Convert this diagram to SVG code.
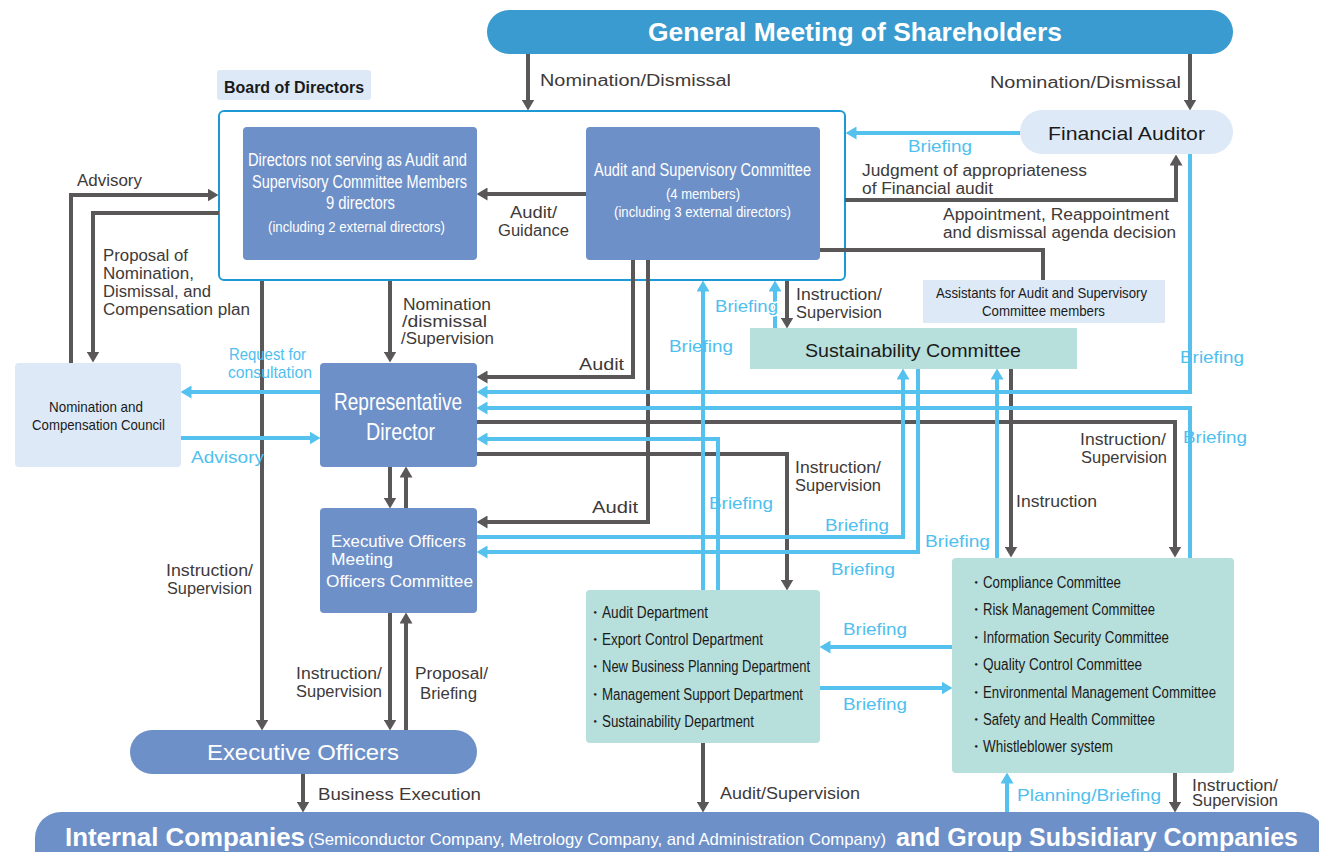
<svg xmlns="http://www.w3.org/2000/svg" width="1319" height="852" viewBox="0 0 1319 852">
<style>
text{font-family:"Liberation Sans",Arial,sans-serif;}
.lb{fill:#3e3a39;font-size:16px}
.bl{fill:#4fbfef;font-size:17px}
.wt{fill:#ffffff}
.dk{fill:#1a1a1a}
.dl{fill:none;stroke:#595757;stroke-width:4}
.bll{fill:none;stroke:#55c1ee;stroke-width:4}
.blue{fill:#6e90c8}
.pale{fill:#dde9f6}
.teal{fill:#b7dfdc}
</style>
<defs>
<marker id="ad" viewBox="0 0 11 13" refX="0.5" refY="6.5" markerWidth="11" markerHeight="13" markerUnits="userSpaceOnUse" orient="auto"><path d="M0,0L11,6.5L0,13z" fill="#595757"/></marker>
<marker id="ab" viewBox="0 0 11 13" refX="0.5" refY="6.5" markerWidth="11" markerHeight="13" markerUnits="userSpaceOnUse" orient="auto"><path d="M0,0L11,6.5L0,13z" fill="#55c1ee"/></marker>
</defs>
<rect width="1319" height="852" fill="#ffffff"/>

<g id="board">
<rect x="219" y="111" width="626" height="169" rx="5" fill="#ffffff" stroke="#1d9ad6" stroke-width="2"/>
</g>

<g id="connectors">
<path class="dl" d="M528,54V100" marker-end="url(#ad)"/>
<path class="dl" d="M1190,54V100" marker-end="url(#ad)"/>
<path class="dl" d="M586,194H487" marker-end="url(#ad)"/>
<path class="dl" d="M845,200H1176V165" marker-end="url(#ad)"/>
<path class="dl" d="M820,250H1043V280"/>
<path class="dl" d="M71,363V195H208" marker-end="url(#ad)"/>
<path class="dl" d="M219,213H93V352" marker-end="url(#ad)"/>
<path class="dl" d="M262,281V720" marker-end="url(#ad)"/>
<path class="dl" d="M390,281V352" marker-end="url(#ad)"/>
<path class="dl" d="M633,260V377H487" marker-end="url(#ad)"/>
<path class="dl" d="M648,260V522H487" marker-end="url(#ad)"/>
<path class="dl" d="M787,281V318" marker-end="url(#ad)"/>
<path class="dl" d="M477,422H1175V547" marker-end="url(#ad)"/>
<path class="dl" d="M477,454H787V580" marker-end="url(#ad)"/>
<path class="dl" d="M1011,369V547" marker-end="url(#ad)"/>
<path class="dl" d="M390,467V498" marker-end="url(#ad)"/>
<path class="dl" d="M406,508V477" marker-end="url(#ad)"/>
<path class="dl" d="M390,613V720" marker-end="url(#ad)"/>
<path class="dl" d="M406,730V623" marker-end="url(#ad)"/>
<path class="dl" d="M303,774V802" marker-end="url(#ad)"/>
<path class="dl" d="M703,743V802" marker-end="url(#ad)"/>
<path class="dl" d="M1175,773V802" marker-end="url(#ad)"/>

<path class="bll" d="M1020,133H856" marker-end="url(#ab)"/>
<path class="bll" d="M1190,154V392H487" marker-end="url(#ab)"/>
<path class="bll" d="M320,392H191" marker-end="url(#ab)"/>
<path class="bll" d="M181,438H310" marker-end="url(#ab)"/>
<path class="bll" d="M1190,558V408H487" marker-end="url(#ab)"/>
<path class="bll" d="M718,590V439H487" marker-end="url(#ab)"/>
<path class="bll" d="M703,590V291" marker-end="url(#ab)"/>
<path class="bll" d="M775,328V291" marker-end="url(#ab)"/>
<path class="bll" d="M477,537H903V379" marker-end="url(#ab)"/>
<path class="bll" d="M918,369V552H487" marker-end="url(#ab)"/>
<path class="bll" d="M997,558V379" marker-end="url(#ab)"/>
<path class="bll" d="M952,647H830" marker-end="url(#ab)"/>
<path class="bll" d="M820,688H942" marker-end="url(#ab)"/>
<path class="bll" d="M1007,812V783" marker-end="url(#ab)"/>
</g>

<g id="gms">
<rect x="487" y="10" width="746" height="44" rx="22" fill="#3a9bd0"/>
<text x="648" y="41" class="wt" font-size="26" font-weight="bold" textLength="414" lengthAdjust="spacingAndGlyphs">General Meeting of Shareholders</text>
</g>
<g id="board-label">
<rect x="217" y="70" width="154" height="30" rx="3" class="pale"/>
<text x="224" y="93" class="dk" font-size="16" font-weight="bold" textLength="140" lengthAdjust="spacingAndGlyphs">Board of Directors</text>
</g>
<g id="directors">
<rect x="243" y="127" width="234" height="133" rx="4" class="blue"/>
<text x="248" y="166" class="wt" font-size="18" textLength="219" lengthAdjust="spacingAndGlyphs">Directors not serving as Audit and</text>
<text x="252" y="188" class="wt" font-size="18" textLength="215" lengthAdjust="spacingAndGlyphs">Supervisory Committee Members</text>
<text x="326" y="209" class="wt" font-size="18" textLength="69" lengthAdjust="spacingAndGlyphs">9 directors</text>
<text x="268" y="232" class="wt" font-size="14" textLength="177" lengthAdjust="spacingAndGlyphs">(including 2 external directors)</text>
</g>
<g id="audit-committee">
<rect x="586" y="127" width="234" height="133" rx="4" class="blue"/>
<text x="594" y="176" class="wt" font-size="18" textLength="217" lengthAdjust="spacingAndGlyphs">Audit and Supervisory Committee</text>
<text x="666" y="199" class="wt" font-size="14" textLength="74" lengthAdjust="spacingAndGlyphs">(4 members)</text>
<text x="614" y="217" class="wt" font-size="14" textLength="177" lengthAdjust="spacingAndGlyphs">(including 3 external directors)</text>
</g>
<g id="financial-auditor">
<rect x="1020" y="110" width="213" height="44" rx="22" class="pale"/>
<text x="1048" y="140" class="dk" font-size="18" textLength="157" lengthAdjust="spacingAndGlyphs">Financial Auditor</text>
</g>
<g id="assistants">
<rect x="923" y="280" width="242" height="43" class="pale"/>
<text x="936" y="298" class="dk" font-size="15" textLength="211" lengthAdjust="spacingAndGlyphs">Assistants for Audit and Supervisory</text>
<text x="982" y="316" class="dk" font-size="15" textLength="123" lengthAdjust="spacingAndGlyphs">Committee members</text>
</g>
<g id="council">
<rect x="15" y="363" width="166" height="104" rx="4" class="pale"/>
<text x="49" y="412" class="dk" font-size="15" textLength="94" lengthAdjust="spacingAndGlyphs">Nomination and</text>
<text x="32" y="430" class="dk" font-size="15" textLength="133" lengthAdjust="spacingAndGlyphs">Compensation Council</text>
</g>
<g id="rep-director">
<rect x="320" y="363" width="157" height="104" rx="4" class="blue"/>
<text x="334" y="410" class="wt" font-size="24" textLength="128" lengthAdjust="spacingAndGlyphs">Representative</text>
<text x="366" y="440" class="wt" font-size="24" textLength="69" lengthAdjust="spacingAndGlyphs">Director</text>
</g>
<g id="sustainability">
<rect x="750" y="328" width="327" height="41" class="teal"/>
<text x="805" y="357" class="dk" font-size="18" textLength="216" lengthAdjust="spacingAndGlyphs">Sustainability Committee</text>
</g>
<g id="exec-meeting">
<rect x="320" y="508" width="157" height="105" rx="4" class="blue"/>
<text x="331" y="547" class="wt" font-size="16" textLength="135" lengthAdjust="spacingAndGlyphs">Executive Officers</text>
<text x="331" y="565" class="wt" font-size="16" textLength="62" lengthAdjust="spacingAndGlyphs">Meeting</text>
<text x="326" y="587" class="wt" font-size="16" textLength="147" lengthAdjust="spacingAndGlyphs">Officers Committee</text>
</g>
<g id="exec-officers">
<rect x="130" y="730" width="347" height="44" rx="22" class="blue"/>
<text x="207" y="760" class="wt" font-size="22" textLength="192" lengthAdjust="spacingAndGlyphs">Executive Officers</text>
</g>
<g id="departments">
<rect x="586" y="590" width="234" height="153" rx="4" class="teal"/>
<g class="dk" font-size="16">
<text x="587" y="618">・<tspan x="602" textLength="106" lengthAdjust="spacingAndGlyphs">Audit Department</tspan></text>
<text x="587" y="645">・<tspan x="602" textLength="161" lengthAdjust="spacingAndGlyphs">Export Control Department</tspan></text>
<text x="587" y="672">・<tspan x="602" textLength="208" lengthAdjust="spacingAndGlyphs">New Business Planning Department</tspan></text>
<text x="587" y="700">・<tspan x="602" textLength="201" lengthAdjust="spacingAndGlyphs">Management Support Department</tspan></text>
<text x="587" y="727">・<tspan x="602" textLength="152" lengthAdjust="spacingAndGlyphs">Sustainability Department</tspan></text>
</g>
</g>
<g id="committees">
<rect x="952" y="558" width="282" height="215" rx="4" class="teal"/>
<g class="dk" font-size="16">
<text x="968" y="588">・<tspan x="983" textLength="138" lengthAdjust="spacingAndGlyphs">Compliance Committee</tspan></text>
<text x="968" y="615">・<tspan x="983" textLength="172" lengthAdjust="spacingAndGlyphs">Risk Management Committee</tspan></text>
<text x="968" y="643">・<tspan x="983" textLength="186" lengthAdjust="spacingAndGlyphs">Information Security Committee</tspan></text>
<text x="968" y="670">・<tspan x="983" textLength="159" lengthAdjust="spacingAndGlyphs">Quality Control Committee</tspan></text>
<text x="968" y="698">・<tspan x="983" textLength="233" lengthAdjust="spacingAndGlyphs">Environmental Management Committee</tspan></text>
<text x="968" y="725">・<tspan x="983" textLength="172" lengthAdjust="spacingAndGlyphs">Safety and Health Committee</tspan></text>
<text x="968" y="752">・<tspan x="983" textLength="130" lengthAdjust="spacingAndGlyphs">Whistleblower system</tspan></text>
</g>
</g>
<g id="companies">
<rect x="35" y="812" width="1290" height="80" rx="26" class="blue"/>
<text x="65" y="846" class="wt" font-size="25" font-weight="bold" textLength="240" lengthAdjust="spacingAndGlyphs">Internal Companies</text>
<text x="308" y="845" class="wt" font-size="17" textLength="578" lengthAdjust="spacingAndGlyphs">(Semiconductor Company, Metrology Company, and Administration Company)</text>
<text x="896" y="846" class="wt" font-size="25" font-weight="bold" textLength="402" lengthAdjust="spacingAndGlyphs">and Group Subsidiary Companies</text>
</g>

<g id="labels">
<text x="540" y="86" class="lb" font-size="17" textLength="191" lengthAdjust="spacingAndGlyphs">Nomination/Dismissal</text>
<text x="990" y="88" class="lb" font-size="17" textLength="191" lengthAdjust="spacingAndGlyphs">Nomination/Dismissal</text>
<text x="908" y="152" class="bl" textLength="64" lengthAdjust="spacingAndGlyphs">Briefing</text>
<text x="862" y="176" class="lb" textLength="225" lengthAdjust="spacingAndGlyphs">Judgment of appropriateness</text>
<text x="862" y="194" class="lb" textLength="131" lengthAdjust="spacingAndGlyphs">of Financial audit</text>
<text x="943" y="220" class="lb" textLength="226" lengthAdjust="spacingAndGlyphs">Appointment, Reappointment</text>
<text x="943" y="238" class="lb" textLength="233" lengthAdjust="spacingAndGlyphs">and dismissal agenda decision</text>
<text x="510" y="218" class="lb" textLength="47" lengthAdjust="spacingAndGlyphs">Audit/</text>
<text x="498" y="236" class="lb" textLength="71" lengthAdjust="spacingAndGlyphs">Guidance</text>
<text x="77" y="186" class="lb" textLength="65" lengthAdjust="spacingAndGlyphs">Advisory</text>
<text x="103" y="261" class="lb" textLength="85" lengthAdjust="spacingAndGlyphs">Proposal of</text>
<text x="103" y="279" class="lb" textLength="91" lengthAdjust="spacingAndGlyphs">Nomination,</text>
<text x="103" y="297" class="lb" textLength="108" lengthAdjust="spacingAndGlyphs">Dismissal, and</text>
<text x="103" y="315" class="lb" textLength="147" lengthAdjust="spacingAndGlyphs">Compensation plan</text>
<text x="403" y="310" class="lb" font-size="15" textLength="88" lengthAdjust="spacingAndGlyphs">Nomination</text>
<text x="402" y="327" class="lb" font-size="15" textLength="85" lengthAdjust="spacingAndGlyphs">/dismissal</text>
<text x="401" y="344" class="lb" font-size="15" textLength="93" lengthAdjust="spacingAndGlyphs">/Supervision</text>
<text x="229" y="360" class="bl" font-size="14" textLength="77" lengthAdjust="spacingAndGlyphs">Request for</text>
<text x="228" y="378" class="bl" font-size="14" textLength="84" lengthAdjust="spacingAndGlyphs">consultation</text>
<text x="191" y="463" class="bl" font-size="18" textLength="73" lengthAdjust="spacingAndGlyphs">Advisory</text>
<text x="579" y="370" class="lb" font-size="18" textLength="45" lengthAdjust="spacingAndGlyphs">Audit</text>
<text x="592" y="513" class="lb" font-size="18" textLength="46" lengthAdjust="spacingAndGlyphs">Audit</text>
<text x="669" y="352" class="bl" font-size="18" textLength="64" lengthAdjust="spacingAndGlyphs">Briefing</text>
<text x="715" y="312" class="bl" font-size="18" textLength="63" lengthAdjust="spacingAndGlyphs" stroke="#ffffff" stroke-width="3" paint-order="stroke">Briefing</text>
<text x="796" y="300" class="lb" font-size="15" textLength="86" lengthAdjust="spacingAndGlyphs">Instruction/</text>
<text x="796" y="318" class="lb" font-size="15" textLength="86" lengthAdjust="spacingAndGlyphs">Supervision</text>
<text x="795" y="473" class="lb" font-size="15" textLength="86" lengthAdjust="spacingAndGlyphs">Instruction/</text>
<text x="795" y="491" class="lb" font-size="15" textLength="86" lengthAdjust="spacingAndGlyphs">Supervision</text>
<text x="709" y="509" class="bl" font-size="18" textLength="64" lengthAdjust="spacingAndGlyphs">Briefing</text>
<text x="825" y="531" class="bl" font-size="18" textLength="64" lengthAdjust="spacingAndGlyphs">Briefing</text>
<text x="831" y="575" class="bl" font-size="18" textLength="64" lengthAdjust="spacingAndGlyphs">Briefing</text>
<text x="925" y="547" class="bl" font-size="18" textLength="65" lengthAdjust="spacingAndGlyphs">Briefing</text>
<text x="1016" y="507" class="lb" font-size="15" textLength="81" lengthAdjust="spacingAndGlyphs">Instruction</text>
<text x="1080" y="445" class="lb" font-size="15" textLength="86" lengthAdjust="spacingAndGlyphs">Instruction/</text>
<text x="1081" y="463" class="lb" font-size="15" textLength="86" lengthAdjust="spacingAndGlyphs">Supervision</text>
<text x="1180" y="363" class="bl" font-size="18" textLength="64" lengthAdjust="spacingAndGlyphs">Briefing</text>
<text x="1183" y="443" class="bl" font-size="18" textLength="64" lengthAdjust="spacingAndGlyphs">Briefing</text>
<text x="166" y="576" class="lb" font-size="15" textLength="87" lengthAdjust="spacingAndGlyphs">Instruction/</text>
<text x="167" y="594" class="lb" font-size="15" textLength="85" lengthAdjust="spacingAndGlyphs">Supervision</text>
<text x="296" y="679" class="lb" font-size="15" textLength="86" lengthAdjust="spacingAndGlyphs">Instruction/</text>
<text x="296" y="697" class="lb" font-size="15" textLength="86" lengthAdjust="spacingAndGlyphs">Supervision</text>
<text x="415" y="679" class="lb" font-size="15" textLength="73" lengthAdjust="spacingAndGlyphs">Proposal/</text>
<text x="420" y="699" class="lb" font-size="15" textLength="57" lengthAdjust="spacingAndGlyphs">Briefing</text>
<text x="318" y="800" class="lb" font-size="17" textLength="163" lengthAdjust="spacingAndGlyphs">Business Execution</text>
<text x="720" y="799" class="lb" font-size="16" textLength="140" lengthAdjust="spacingAndGlyphs">Audit/Supervision</text>
<text x="1017" y="801" class="bl" font-size="17" textLength="144" lengthAdjust="spacingAndGlyphs">Planning/Briefing</text>
<text x="1192" y="791" class="lb" font-size="12.5" textLength="86" lengthAdjust="spacingAndGlyphs">Instruction/</text>
<text x="1192" y="806" class="lb" font-size="12.5" textLength="86" lengthAdjust="spacingAndGlyphs">Supervision</text>
<text x="843" y="635" class="bl" font-size="18" textLength="64" lengthAdjust="spacingAndGlyphs">Briefing</text>
<text x="843" y="710" class="bl" font-size="18" textLength="64" lengthAdjust="spacingAndGlyphs">Briefing</text>
</g>
</svg>
